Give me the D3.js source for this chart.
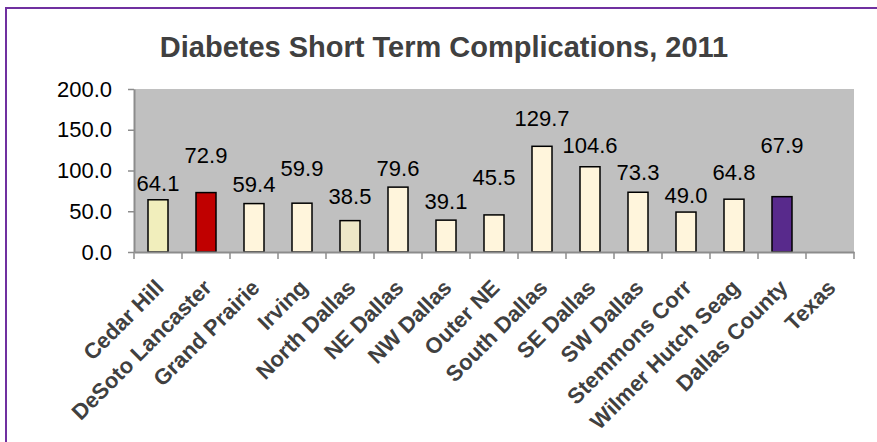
<!DOCTYPE html>
<html lang="en">
<head>
  <meta charset="UTF-8">
  <title>Diabetes Short Term Complications, 2011</title>
  <style>
    body { margin: 0; background: #fff; }
    * { font-family: "Liberation Sans", Arial, sans-serif; }
  </style>
</head>
<body>
<div id="chart"></div>
<script src="https://d3js.org/d3.v7.min.js"></script>
<script type="text/javascript">

  // data
  var categories = ["Cedar Hill", "DeSoto Lancaster", "Grand Prairie", "Irving", "North Dallas",
    "NE Dallas", "NW Dallas", "Outer NE", "South Dallas", "SE Dallas", "SW Dallas",
    "Stemmons Corr", "Wilmer Hutch Seag", "Dallas County", "Texas"];
  var values = [64.1, 72.9, 59.4, 59.9, 38.5, 79.6, 39.1, 45.5, 129.7, 104.6, 73.3, 49.0, 64.8, 67.9, null];
  var yTicks = [0, 50, 100, 150, 200];

  // bar fills that differ from the default cream
  var specialFill = {
    "Cedar Hill": "#F1EEBC",
    "DeSoto Lancaster": "#C00000",
    "North Dallas": "#EDE7C7",
    "Dallas County": "#582A8C"
  };
  // how far each value label sits above its bar (Excel placed them by hand)
  var labelLift = [9, 30, 12, 27, 17, 11, 11, 30, 20, 14, 12, 9, 19, 44];

  var w = 877, h = 442;
  var plot = {left: 134, right: 854, top: 89, bottom: 252};
  var barW = 20;

  var svg = d3.select("#chart").append("svg")
    .attr("width", w)
    .attr("height", h);

  // outer frame (right and bottom edges run off the picture)
  svg.append("rect")
    .attr("x", 6).attr("y", 8)
    .attr("width", w + 20).attr("height", h + 20)
    .attr("fill", "#fff")
    .attr("stroke", "#7030A0")
    .attr("stroke-width", 2);

  svg.append("text")
    .attr("x", 444)
    .attr("y", 57)
    .attr("text-anchor", "middle")
    .attr("font-size", "29px")
    .attr("font-weight", "bold")
    .attr("fill", "#404040")
    .text("Diabetes Short Term Complications, 2011");

  var x = d3.scaleBand()
    .domain(categories)
    .range([plot.left, plot.right]);

  var y = d3.scaleLinear()
    .domain([0, 200])
    .range([plot.bottom, plot.top]);

  // plot background
  svg.append("rect")
    .attr("x", plot.left)
    .attr("y", plot.top)
    .attr("width", plot.right - plot.left)
    .attr("height", plot.bottom - plot.top)
    .attr("fill", "#C0C0C0");

  // y axis
  var yAxis = svg.append("g")
    .attr("transform", `translate(${plot.left},0)`)
    .call(d3.axisLeft(y).tickValues(yTicks).tickFormat(d3.format(".1f"))
      .tickSize(6).tickSizeOuter(0).tickPadding(16));
  yAxis.select(".domain").attr("stroke", "#8C8C8C").attr("stroke-width", 2);
  yAxis.selectAll(".tick line").attr("stroke", "#8C8C8C").attr("stroke-width", 1.5);
  yAxis.selectAll(".tick text")
    .attr("font-size", "22px")
    .attr("font-family", "Liberation Sans, Arial, sans-serif")
    .attr("fill", "#000");

  // bars
  var barData = categories.map((c, i) => ({cat: c, val: values[i], i: i}))
    .filter(d => d.val != null);

  svg.selectAll("rect.bar")
    .data(barData)
    .enter()
    .append("rect")
    .attr("class", "bar")
    .attr("x", d => x(d.cat) + (x.bandwidth() - barW) / 2)
    .attr("y", d => y(d.val))
    .attr("width", barW)
    .attr("height", d => y(0) - y(d.val))
    .attr("fill", d => specialFill[d.cat] || "#FFF5DC")
    .attr("stroke", "#000")
    .attr("stroke-width", 1.5);

  // x axis line and tick marks at band edges
  var xAxis = svg.append("g")
    .attr("transform", `translate(0,${plot.bottom})`)
    .call(d3.axisBottom(x).tickSize(0).tickFormat(""));
  xAxis.select(".domain").attr("stroke", "#8C8C8C").attr("stroke-width", 2);
  var edges = categories.map(c => x(c)).concat([x.range()[1]]);
  xAxis.selectAll("line.edge")
    .data(edges)
    .enter()
    .append("line")
    .attr("class", "edge")
    .attr("x1", d => d).attr("x2", d => d)
    .attr("y1", 0).attr("y2", 7)
    .attr("stroke", "#8C8C8C")
    .attr("stroke-width", 1.5);

  // category labels
  svg.selectAll("text.cat")
    .data(categories)
    .enter()
    .append("text")
    .attr("class", "cat")
    .attr("transform", d => `translate(${x(d) + x.bandwidth() / 2 + 7},${plot.bottom + 37}) rotate(-45)`)
    .attr("text-anchor", "end")
    .attr("font-size", "22px")
    .attr("font-weight", "bold")
    .attr("fill", "#404040")
    .text(d => d);

  // value labels
  svg.selectAll("text.val")
    .data(barData)
    .enter()
    .append("text")
    .attr("class", "val")
    .attr("x", d => x(d.cat) + x.bandwidth() / 2)
    .attr("y", d => y(d.val) - labelLift[d.i])
    .attr("text-anchor", "middle")
    .attr("font-size", "22px")
    .attr("fill", "#000")
    .text(d => d3.format(".1f")(d.val));

</script>
</body>
</html>
